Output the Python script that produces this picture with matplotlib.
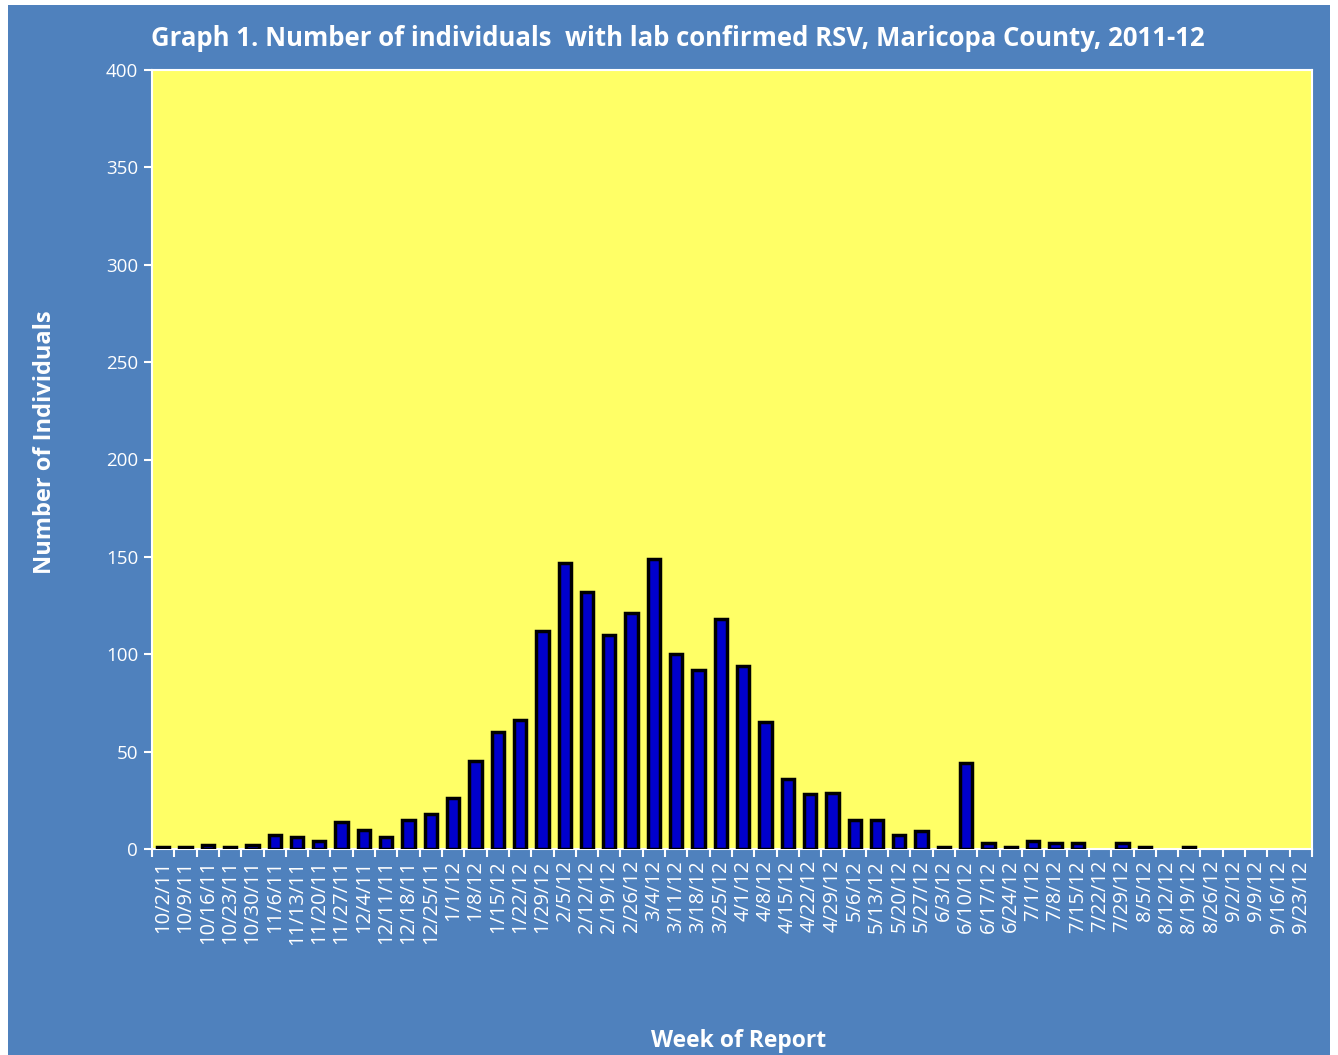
#!/usr/bin/env python3

import numpy as np
import matplotlib
matplotlib.use('Agg')
import matplotlib.pyplot as plt
from matplotlib.patches import Rectangle

weeks = ['10/2/11', '10/9/11', '10/16/11', '10/23/11', '10/30/11', '11/6/11',
         '11/13/11', '11/20/11', '11/27/11', '12/4/11', '12/11/11', '12/18/11',
         '12/25/11', '1/1/12', '1/8/12', '1/15/12', '1/22/12', '1/29/12',
         '2/5/12', '2/12/12', '2/19/12', '2/26/12', '3/4/12', '3/11/12',
         '3/18/12', '3/25/12', '4/1/12', '4/8/12', '4/15/12', '4/22/12',
         '4/29/12', '5/6/12', '5/13/12', '5/20/12', '5/27/12', '6/3/12',
         '6/10/12', '6/17/12', '6/24/12', '7/1/12', '7/8/12', '7/15/12',
         '7/22/12', '7/29/12', '8/5/12', '8/12/12', '8/19/12', '8/26/12',
         '9/2/12', '9/9/12', '9/16/12', '9/23/12']
cases = [1, 1, 2, 1, 2, 7, 6, 4, 14, 10, 6, 15,
         18, 26, 45, 60, 66, 112, 147, 132, 110, 121, 149, 100,
         92, 118, 94, 65, 36, 28, 29, 15, 15, 7, 9, 1,
         44, 3, 1, 4, 3, 3, 0, 3, 1, 0, 1, 0,
         0, 0, 0, 0]
yticks = list(range(0, 401, 50))

BLUE_BG = '#4F81BD'
YELLOW = '#FFFF66'
BAR = '#0000CC'

def main():
    plt.rcParams['font.family'] = ['Liberation Sans Narrow', 'Open Sans', 'DejaVu Sans']

    fig = plt.figure(figsize=(13.38, 10.55), dpi=100, facecolor='white')
    fig.patches.append(Rectangle((8 / 1338, 0), 1322 / 1338, 1 - 5 / 1055,
                                 transform=fig.transFigure, facecolor=BLUE_BG,
                                 edgecolor='none', zorder=-10))

    ax = fig.add_axes([152 / 1338, 1 - 849 / 1055, 1160 / 1338, 779 / 1055])
    ax.set_facecolor(YELLOW)

    x = np.arange(len(weeks))
    # empty weeks get no outline, so nothing is drawn for them
    lw = [2.5 if v > 0 else 0 for v in cases]
    ax.bar(x, cases, width=0.55, color=BAR, edgecolor='black', linewidth=lw, zorder=3)

    ax.set_xlim(-0.5, len(weeks) - 0.5)
    ax.set_ylim(0, 400)
    ax.set_yticks(yticks)
    ax.set_yticklabels([str(v) for v in yticks], color='white', fontsize=13.5)
    ax.tick_params(axis='y', colors='white', length=6, width=1.5, pad=4)

    ax.set_xticks(x)
    ax.set_xticklabels(weeks, rotation=90, color='white', fontsize=14.5)
    ax.tick_params(axis='x', which='major', length=0, pad=8)
    ax.set_xticks(np.arange(-0.5, len(weeks), 1), minor=True)
    ax.tick_params(axis='x', which='minor', colors='white', length=6, width=1.5)

    for s in ax.spines.values():
        s.set_color('white')
        s.set_linewidth(1.5)

    fig.text(678 / 1338, 1 - 38 / 1055,
             'Graph 1. Number of individuals  with lab confirmed RSV, Maricopa County, 2011-12',
             ha='center', va='center', color='white', fontsize=18.5, fontweight='bold')
    fig.text(45 / 1338, 1 - 442 / 1055, 'Number of Individuals', rotation=90,
             ha='center', va='center', color='white', fontsize=17, fontweight='bold')
    fig.text(739 / 1338, 1 - 1041 / 1055, 'Week of Report',
             ha='center', va='center', color='white', fontsize=16.5, fontweight='bold')

    fig.savefig('out.png', dpi=100, facecolor=fig.get_facecolor())

if __name__ == '__main__':
    main()
